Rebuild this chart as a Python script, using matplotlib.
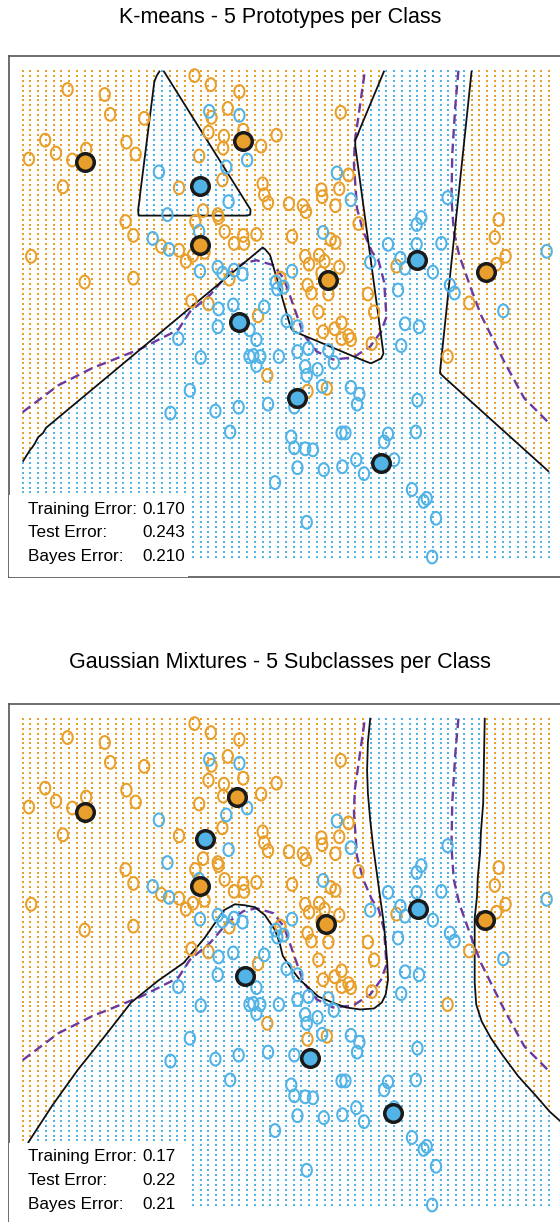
import numpy as np
import matplotlib
matplotlib.use("Agg")
import matplotlib.pyplot as plt
from matplotlib.path import Path
from matplotlib.patches import Rectangle

# training data: two classes
orange_x = [-2.02, -1.54, -1.47, -1.03, -2.31, -1.26, -2.17, -2.52, -1.78, -1.96,
            -1.14, -2.08, -0.58, -1.27, -1.17, -0.81, -0.58, -0.49, -2.49, -1.80,
            -1.17, -0.42, -0.38, -0.17, 0.20, 0.05, -0.16, -0.20, 0.00, -0.01,
            0.25, 0.48, 0.68, 1.51, -0.32, -0.02, 0.50, 0.52, 0.57, 0.84,
            1.02, 1.06, 1.26, 1.27, 1.49, 1.44, 1.61, -0.27, -0.37, -0.08,
            -0.07, 0.01, 0.25, 0.13, 0.26, 0.42, 0.88, 1.38, 1.44, 1.74,
            1.05, 1.10, 1.23, 1.30, 1.49, 1.26, 1.08, 1.13, 1.35, 1.86,
            1.22, 1.94, 0.73, 0.44, -0.20, -0.25, -0.40, 0.07, 3.55, 3.50,
            3.64, 3.52, 2.23, 3.17, 0.56, 1.33, 1.08, 1.28, 1.43, 1.52,
            1.52, 1.61, 1.64, 1.91, 2.89]
orange_y = [2.71, 2.66, 2.46, 2.42, 2.20, 2.18, 2.07, 2.01, 2.11, 2.00,
            2.06, 1.73, 1.72, 1.38, 1.24, 1.13, 1.09, 0.98, 1.03, 0.77,
            0.81, 0.58, 2.85, 2.76, 2.69, 2.52, 2.43, 2.28, 2.24, 2.12,
            2.30, 2.14, 2.25, 2.48, 2.04, 1.80, 1.76, 1.65, 1.57, 1.56,
            1.54, 1.48, 1.70, 1.63, 1.71, 1.54, 1.85, 1.49, 1.38, 1.45,
            1.42, 1.28, 1.24, 1.16, 1.16, 1.25, 1.23, 1.20, 1.17, 1.36,
            1.03, 0.95, 1.04, 0.98, 0.92, 0.86, 0.74, 0.66, 0.65, 0.65,
            0.47, 0.47, 0.81, 0.43, 0.55, 1.07, 1.04, 0.80, 1.40, 1.22,
            1.03, 0.95, 0.93, 0.56, -0.17, -0.30, -0.33, 0.27, 0.30, 0.36,
            0.20, 0.23, 0.19, 0.15, 0.02]
blue_x = [-0.84, -0.73, -0.92, -0.71, -0.19, 0.20, 0.30, 0.03, 0.06, -0.32,
          1.46, 1.64, 1.28, 1.89, -0.31, -0.08, -0.02, 0.13, 0.24, 0.88,
          0.67, 0.69, 0.77, 0.12, 0.52, -0.07, 2.89, 2.55, 2.49, 2.12,
          2.49, 2.81, 2.28, 2.34, 2.70, 2.92, 2.98, 2.25, 4.17, 3.61,
          -0.59, -0.44, -0.69, -0.08, 0.33, 0.42, -0.30, 0.33, 0.38, 0.47,
          0.42, 0.71, 0.81, 0.95, 0.95, 1.09, 1.05, 1.07, 1.21, 1.35,
          1.42, -0.11, 0.19, 0.57, 0.91, 1.27, 1.64, 1.75, 1.72, 0.08,
          0.87, 0.91, 1.05, 1.15, 1.52, 1.57, 1.71, 1.81, 1.53, 1.29,
          0.95, 0.66, 1.07, 2.34, 2.52, 2.29, 2.50, 2.12, 2.07, 2.48,
          2.20, 2.43, 2.58, 2.62, 2.74, 2.69]
blue_y = [1.88, 1.45, 1.21, 1.10, 2.49, 2.45, 2.00, 1.93, 1.58, 1.28,
          1.87, 1.60, 1.27, 0.97, 0.88, 0.92, 0.86, 0.89, 0.85, 0.88,
          0.77, 0.70, 0.72, 0.54, 0.52, 0.50, 1.62, 1.42, 1.35, 1.15,
          1.15, 1.16, 1.01, 0.91, 0.87, 0.74, 0.66, 0.69, 1.08, 0.48,
          0.20, -0.32, -0.55, 0.32, 0.29, 0.19, 0.01, 0.02, 0.03, 0.02,
          -0.07, 0.02, 0.38, 0.32, 0.07, 0.10, -0.08, -0.17, -0.11, 0.08,
          -0.04, -0.53, -0.49, -0.46, -0.49, -0.28, -0.29, -0.36, -0.46, -0.74,
          -0.79, -0.90, -0.91, -0.92, -0.75, -0.75, -1.02, -1.16, -1.09, -1.12,
          -1.10, -1.25, -1.65, 0.35, 0.32, 0.13, -0.42, -0.76, -0.84, -0.74,
          -1.02, -1.32, -1.44, -1.41, -1.61, -2.00]

# K-means prototypes (5 per class)
km_orange_x = [-1.79, 0.25, -0.31, 1.34, 3.38]
km_orange_y = [1.98, 2.19, 1.14, 0.79, 0.87]
km_blue_x = [-0.31, 0.19, 2.49, 0.95, 2.03]
km_blue_y = [1.74, 0.37, 0.99, -0.40, -1.05]

# Gaussian mixture subclass means (5 per class)
gm_orange_x = [-1.80, 0.17, -0.31, 1.32, 3.37]
gm_orange_y = [1.96, 2.11, 1.21, 0.83, 0.87]
gm_blue_x = [-0.25, 2.51, 0.27, 1.11, 2.18]
gm_blue_y = [1.69, 0.98, 0.31, -0.52, -1.07]

# mixture decision boundary (two branches)
gm_left_x = [-2.70, -2.52, -2.22, -1.89, -1.54, -1.20, -0.85, -0.52, -0.25, 0.00,
             0.14, 0.27, 0.40, 0.53, 0.66, 0.72, 0.76, 0.88, 0.98, 1.22,
             1.40, 1.58, 1.76, 1.94, 2.04, 2.09, 2.12, 2.11, 2.09, 2.06,
             2.02, 1.98, 1.93, 1.89, 1.86, 1.85, 1.86, 1.89]
gm_left_y = [-1.63, -1.36, -1.00, -0.64, -0.30, 0.04, 0.26, 0.44, 0.69, 0.97,
             1.03, 1.02, 1.00, 0.92, 0.77, 0.64, 0.51, 0.37, 0.27, 0.10,
             0.04, -0.01, -0.03, -0.02, 0.04, 0.12, 0.27, 0.44, 0.64, 0.87,
             1.09, 1.32, 1.60, 1.88, 2.15, 2.38, 2.66, 2.90]
gm_right_x = [3.37, 3.36, 3.35, 3.32, 3.31, 3.28, 3.27, 3.24, 3.24, 3.24,
              3.24, 3.26, 3.33, 3.45, 3.60, 3.80, 4.02, 4.21, 4.41]
gm_right_y = [2.90, 2.50, 2.05, 1.75, 1.55, 1.30, 1.11, 0.89, 0.71, 0.47,
              0.24, 0.02, -0.15, -0.32, -0.49, -0.70, -0.89, -1.06, -1.20]

# Bayes decision boundary
bayes_a_x = [-2.60, -2.14, -1.71, -1.07, -0.59, -0.44, -0.18, 0.04, 0.25, 0.42,
             0.64, 0.77, 0.85, 0.94, 1.03, 1.20, 1.41, 1.67, 1.89, 2.03,
             2.10, 2.07, 2.00, 1.91, 1.80, 1.72, 1.68, 1.69, 1.74, 1.82]
bayes_a_y = [-0.54, -0.27, -0.10, 0.10, 0.29, 0.47, 0.64, 0.84, 0.96, 0.99,
             0.94, 0.81, 0.64, 0.44, 0.24, 0.07, -0.01, 0.01, 0.12, 0.27,
             0.42, 0.77, 0.98, 1.08, 1.28, 1.51, 1.95, 2.18, 2.45, 2.89]
bayes_b_x = [3.03, 2.99, 2.95, 2.94, 2.97, 3.04, 3.19, 3.32, 3.62, 3.88, 4.20]
bayes_b_y = [2.90, 2.55, 2.05, 1.61, 1.28, 1.04, 0.71, 0.44, -0.03, -0.40, -0.65]

km_errors = ["0.170", "0.243", "0.210"]
gm_errors = ["0.17", "0.22", "0.21"]
error_names = ["Training Error:", "Test Error:", "Bayes Error:"]

ORANGE = "#E89F2C"
BLUE = "#52B3E6"
PURPLE = "#6B3A9E"

plt.rcParams['font.family'] = ['Liberation Sans', 'DejaVu Sans']

gx = np.linspace(-2.6, 4.2, 69)
gy = np.linspace(-2.0, 2.9, 99)
GX, GY = np.meshgrid(gx, gy)


def nearest_sq(xs, ys):
    return np.min([(GX - a) ** 2 + (GY - b) ** 2 for a, b in zip(xs, ys)], axis=0)


# K-means: classify the grid by the nearest prototype
km_score = nearest_sq(km_orange_x, km_orange_y) - nearest_sq(km_blue_x, km_blue_y)
km_blue = km_score > 0

# mixture: blue region enclosed by the two boundary branches
region = np.r_[np.c_[gm_left_x, gm_left_y], [[1.90, 3.2], [3.37, 3.2]],
               np.c_[gm_right_x, gm_right_y], [[4.6, -2.5], [-2.9, -2.5]]]
gm_blue = Path(region).contains_points(np.c_[GX.ravel(), GY.ravel()]).reshape(GX.shape)

t = np.linspace(0, 2 * np.pi, 50)
ring = Path(np.c_[0.8 * np.cos(t), np.sin(t)], closed=True)


def draw_panel(ax, is_blue, px_o, py_o, px_b, py_b, errs):
    ax.scatter(GX[~is_blue], GY[~is_blue], s=2.2, marker='s', c=ORANGE, linewidths=0, zorder=1)
    ax.scatter(GX[is_blue], GY[is_blue], s=2.2, marker='s', c=BLUE, linewidths=0, zorder=1)
    ax.plot(bayes_a_x, bayes_a_y, color=PURPLE, lw=1.7, ls=(0, (4, 2.2)), zorder=2)
    ax.plot(bayes_b_x, bayes_b_y, color=PURPLE, lw=1.7, ls=(0, (4, 2.2)), zorder=2)
    ax.add_patch(Rectangle((-2.9, -2.3), 2.43, 0.92, facecolor='white', edgecolor='none', zorder=3))
    ax.scatter(orange_x, orange_y, s=85, marker=ring, facecolors='none',
               edgecolors=ORANGE, linewidths=1.5, zorder=4)
    ax.scatter(blue_x, blue_y, s=85, marker=ring, facecolors='none',
               edgecolors=BLUE, linewidths=1.5, zorder=4)
    ax.scatter(px_o, py_o, s=160, c=ORANGE, edgecolors='#1a1a1a', linewidths=2.5, zorder=5)
    ax.scatter(px_b, py_b, s=160, c=BLUE, edgecolors='#1a1a1a', linewidths=2.5, zorder=5)
    for i, (name, val) in enumerate(zip(error_names, errs)):
        yy = 0.130 - i * 0.0452
        ax.text(0.035, yy, name, transform=ax.transAxes, fontsize=12.3, va='center', zorder=6)
        ax.text(0.241, yy, val, transform=ax.transAxes, fontsize=12.3, va='center', zorder=6)
    ax.set_xlim(-2.7835, 4.3835)
    ax.set_ylim(-2.1985, 3.048)
    ax.set_xticks([])
    ax.set_yticks([])
    for sp in ax.spines.values():
        sp.set_color('#555555')
        sp.set_linewidth(1.2)


fig = plt.figure(figsize=(5.6, 12.22), dpi=100)
ax1 = fig.add_axes([0.01518, 0.52807, 0.9905, 0.42610])
ax2 = fig.add_axes([0.01518, -0.0022, 0.9905, 0.42610])

draw_panel(ax1, km_blue, km_orange_x, km_orange_y, km_blue_x, km_blue_y, km_errors)
ax1.contour(GX, GY, km_score, levels=[0], colors='#111111', linewidths=1.3, zorder=2.5)

draw_panel(ax2, gm_blue, gm_orange_x, gm_orange_y, gm_blue_x, gm_blue_y, gm_errors)
ax2.plot(gm_left_x, gm_left_y, color='#111111', lw=1.3, zorder=2.5)
ax2.plot(gm_right_x, gm_right_y, color='#111111', lw=1.3, zorder=2.5)

fig.text(0.5, 1 - 17 / 1222, "K-means - 5 Prototypes per Class", ha='center', va='center', fontsize=15.5)
fig.text(0.5, 1 - 663 / 1222, "Gaussian Mixtures - 5 Subclasses per Class", ha='center', va='center', fontsize=15.5)

fig.savefig("out.png", dpi=100)
